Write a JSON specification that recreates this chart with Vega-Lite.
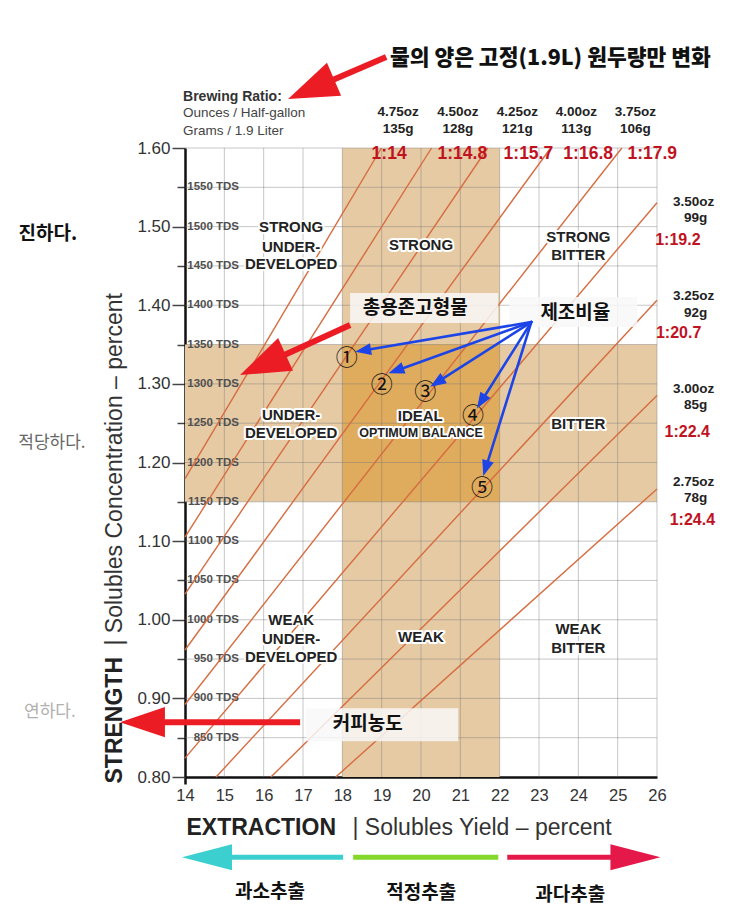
{
  "$schema": "https://vega.github.io/schema/vega-lite/v6.json",
  "width": 472,
  "height": 629,
  "autosize": {"type": "none"},
  "padding": {"left": 185, "top": 148, "right": 86, "bottom": 144},
  "background": "white",
  "config": {"view": {"stroke": null}, "font": "Liberation Sans"},
  "resolve": {"axis": {"x": "independent", "y": "independent"}},
  "datasets": {
    "regions": [
      {"t": "STRONG", "ey": 16.7, "tds": 1.4991},
      {"t": "UNDER-", "ey": 16.7, "tds": 1.4744},
      {"t": "DEVELOPED", "ey": 16.7, "tds": 1.452},
      {"t": "STRONG", "ey": 20.0, "tds": 1.4766},
      {"t": "STRONG", "ey": 24.0, "tds": 1.4872},
      {"t": "BITTER", "ey": 24.0, "tds": 1.4639},
      {"t": "UNDER-", "ey": 16.7, "tds": 1.2603},
      {"t": "DEVELOPED", "ey": 16.7, "tds": 1.2378},
      {"t": "IDEAL", "ey": 19.98, "tds": 1.259},
      {"t": "OPTIMUM BALANCE", "ey": 20.0, "tds": 1.2378},
      {"t": "BITTER", "ey": 24.0, "tds": 1.2489},
      {"t": "WEAK", "ey": 16.7, "tds": 0.9995},
      {"t": "UNDER-", "ey": 16.7, "tds": 0.9753},
      {"t": "DEVELOPED", "ey": 16.7, "tds": 0.9528},
      {"t": "WEAK", "ey": 20.0, "tds": 0.9779},
      {"t": "WEAK", "ey": 24.0, "tds": 0.9877},
      {"t": "BITTER", "ey": 24.0, "tds": 0.9643}
    ]
  },
  "layer": [
    {
      "data": {"values": [
        {"zone": "band", "ey0": 18, "ey1": 22, "tds0": 0.8, "tds1": 1.6},
        {"zone": "band", "ey0": 14, "ey1": 26, "tds0": 1.15, "tds1": 1.35},
        {"zone": "ideal", "ey0": 18, "ey1": 22, "tds0": 1.15, "tds1": 1.35}
      ]},
      "mark": {"type": "rect"},
      "encoding": {
        "x": {"field": "ey0", "type": "quantitative",
          "scale": {"domain": [14, 26], "nice": false, "zero": false},
          "axis": {
            "orient": "bottom",
            "values": [14, 15, 16, 17, 18, 19, 20, 21, 22, 23, 24, 25, 26],
            "format": "d",
            "labelFlush": false,
            "labelFontSize": 16.5, "labelColor": "#333", "labelPadding": 3,
            "tickSize": 7, "tickColor": "#111", "tickWidth": 2.5,
            "tickOpacity": {"condition": {"test": "datum.value == 14", "value": 1}, "value": 0},
            "domainColor": "#111", "domainWidth": 2.5,
            "grid": false,
            "title": "EXTRACTION", "titleFontSize": 23, "titleFontWeight": "bold", "titleColor": "#222",
            "titleAlign": "left", "titleBaseline": "alphabetic", "titleX": 1, "titleY": 57
          }},
        "x2": {"field": "ey1"},
        "y": {"field": "tds0", "type": "quantitative",
          "scale": {"domain": [0.8, 1.6], "nice": false, "zero": false},
          "axis": {
            "orient": "left",
            "values": [0.8, 0.85, 0.9, 0.95, 1, 1.05, 1.1, 1.15, 1.2, 1.25, 1.3, 1.35, 1.4, 1.45, 1.5, 1.55, 1.6],
            "labelExpr": "round(datum.value * 100) % 10 == 0 ? format(datum.value, '.2f') : ''",
            "labelFlush": false,
            "labelFontSize": 17, "labelColor": "#333", "labelPadding": 2,
            "tickSize": {"condition": {"test": "round(datum.value * 100) % 10 == 0", "value": 13}, "value": 8},
            "tickColor": "#444", "tickWidth": 1.5,
            "domainColor": "#111", "domainWidth": 2.5,
            "grid": false,
            "title": "STRENGTH", "titleFontSize": 23, "titleFontWeight": "bold", "titleColor": "#222",
            "titleAngle": 270, "titleAlign": "left", "titleBaseline": "alphabetic", "titleX": -64, "titleY": 635
          }},
        "y2": {"field": "tds1"},
        "fill": {"field": "zone", "type": "nominal",
          "scale": {"domain": ["band", "ideal"], "range": ["#e6caa4", "#dfab5c"]}, "legend": null}
      }
    },
    {
      "data": {"values": [{"ey": 15}, {"ey": 16}, {"ey": 17}, {"ey": 18}, {"ey": 19}, {"ey": 20}, {"ey": 21}, {"ey": 22}, {"ey": 23}, {"ey": 24}, {"ey": 25}, {"ey": 26}]},
      "mark": {"type": "rule", "color": "#777", "opacity": 0.42, "strokeWidth": 1},
      "encoding": {
        "x": {"field": "ey", "type": "quantitative",
          "scale": {"domain": [14, 26], "nice": false, "zero": false},
          "axis": {
            "orient": "bottom", "labels": false, "ticks": false, "domain": false, "grid": false,
            "title": "|  Solubles Yield – percent", "titleFontSize": 23, "titleFontWeight": "normal", "titleColor": "#333",
            "titleAlign": "left", "titleBaseline": "alphabetic", "titleX": 167, "titleY": 57
          }}
      }
    },
    {
      "data": {"values": [{"tds": 0.85}, {"tds": 0.9}, {"tds": 0.95}, {"tds": 1.0}, {"tds": 1.05}, {"tds": 1.1}, {"tds": 1.15}, {"tds": 1.2}, {"tds": 1.25}, {"tds": 1.3}, {"tds": 1.35}, {"tds": 1.4}, {"tds": 1.45}, {"tds": 1.5}, {"tds": 1.55}, {"tds": 1.6}]},
      "mark": {"type": "rule", "color": "#777", "opacity": 0.42, "strokeWidth": 1},
      "encoding": {
        "y": {"field": "tds", "type": "quantitative",
          "scale": {"domain": [0.8, 1.6], "nice": false, "zero": false},
          "axis": {
            "orient": "left", "labels": false, "ticks": false, "domain": false, "grid": false,
            "title": "|  Solubles Concentration – percent", "titleFontSize": 23, "titleFontWeight": "normal", "titleColor": "#333",
            "titleAngle": 270, "titleAlign": "left", "titleBaseline": "alphabetic", "titleX": -64, "titleY": 497
          }}
      }
    },
    {
      "data": {"values": [
        {"tds": 1.55, "label": "1550 TDS"}, {"tds": 1.5, "label": "1500 TDS"}, {"tds": 1.45, "label": "1450 TDS"},
        {"tds": 1.4, "label": "1400 TDS"}, {"tds": 1.35, "label": "1350 TDS"}, {"tds": 1.3, "label": "1300 TDS"},
        {"tds": 1.25, "label": "1250 TDS"}, {"tds": 1.2, "label": "1200 TDS"}, {"tds": 1.15, "label": "1150 TDS"},
        {"tds": 1.1, "label": "1100 TDS"}, {"tds": 1.05, "label": "1050 TDS"}, {"tds": 1.0, "label": "1000 TDS"},
        {"tds": 0.95, "label": "950 TDS"}, {"tds": 0.9, "label": "900 TDS"}, {"tds": 0.85, "label": "850 TDS"}
      ]},
      "mark": {"type": "text", "align": "right", "baseline": "middle", "fontSize": 11.5, "fontWeight": "bold", "color": "#505050"},
      "encoding": {
        "x": {"datum": 15.374, "type": "quantitative", "scale": {"domain": [14, 26], "nice": false, "zero": false}, "axis": null},
        "y": {"field": "tds", "type": "quantitative", "scale": {"domain": [0.8, 1.6], "nice": false, "zero": false}, "axis": null},
        "text": {"field": "label"}
      }
    },
    {
      "data": {"values": [
        {"oz": "2.75", "ey0": 17.833, "tds0": 0.8, "ey1": 26, "tds1": 1.1664},
        {"oz": "3.00", "ey0": 16.185, "tds0": 0.8, "ey1": 26, "tds1": 1.2852},
        {"oz": "3.25", "ey0": 14.79, "tds0": 0.8, "ey1": 26, "tds1": 1.4063},
        {"oz": "3.50", "ey0": 14, "tds0": 0.824, "ey1": 26, "tds1": 1.5304},
        {"oz": "3.75", "ey0": 14, "tds0": 0.8922, "ey1": 25.106, "tds1": 1.6},
        {"oz": "4.00", "ey0": 14, "tds0": 0.9615, "ey1": 23.296, "tds1": 1.6},
        {"oz": "4.25", "ey0": 14, "tds0": 1.0325, "ey1": 21.695, "tds1": 1.6},
        {"oz": "4.50", "ey0": 14, "tds0": 1.1052, "ey1": 20.269, "tds1": 1.6},
        {"oz": "4.75", "ey0": 14, "tds0": 1.1794, "ey1": 18.993, "tds1": 1.6}
      ]},
      "mark": {"type": "rule", "color": "#d66c40", "strokeWidth": 1.4},
      "encoding": {
        "x": {"field": "ey0", "type": "quantitative", "scale": {"domain": [14, 26], "nice": false, "zero": false}, "axis": null},
        "y": {"field": "tds0", "type": "quantitative", "scale": {"domain": [0.8, 1.6], "nice": false, "zero": false}, "axis": null},
        "x2": {"field": "ey1"},
        "y2": {"field": "tds1"}
      }
    },
    {
      "data": {"name": "regions"},
      "mark": {"type": "text", "align": "center", "baseline": "middle", "fontWeight": "bold", "fill": "white", "stroke": "white", "strokeWidth": 4, "strokeJoin": "round"},
      "encoding": {
        "x": {"field": "ey", "type": "quantitative", "scale": {"domain": [14, 26], "nice": false, "zero": false}, "axis": null},
        "y": {"field": "tds", "type": "quantitative", "scale": {"domain": [0.8, 1.6], "nice": false, "zero": false}, "axis": null},
        "text": {"field": "t"},
        "size": {"condition": {"test": "datum.t === 'OPTIMUM BALANCE'", "value": 12.5}, "value": 15}
      }
    },
    {
      "data": {"name": "regions"},
      "mark": {"type": "text", "align": "center", "baseline": "middle", "fontWeight": "bold", "color": "#222"},
      "encoding": {
        "x": {"field": "ey", "type": "quantitative", "scale": {"domain": [14, 26], "nice": false, "zero": false}, "axis": null},
        "y": {"field": "tds", "type": "quantitative", "scale": {"domain": [0.8, 1.6], "nice": false, "zero": false}, "axis": null},
        "text": {"field": "t"},
        "size": {"condition": {"test": "datum.t === 'OPTIMUM BALANCE'", "value": 12.5}, "value": 15}
      }
    },
    {
      "data": {"values": [{"t": "Brewing Ratio:", "ey": 13.95, "tds": 1.6649}]},
      "mark": {"type": "text", "align": "left", "baseline": "middle", "fontSize": 14, "fontWeight": "bold", "color": "#333"},
      "encoding": {
        "x": {"field": "ey", "type": "quantitative", "scale": {"domain": [14, 26], "nice": false, "zero": false}, "axis": null},
        "y": {"field": "tds", "type": "quantitative", "scale": {"domain": [0.8, 1.6], "nice": false, "zero": false}, "axis": null},
        "text": {"field": "t"}
      }
    },
    {
      "data": {"values": [
        {"t": "Ounces / Half-gallon", "ey": 13.95, "tds": 1.6445},
        {"t": "Grams / 1.9 Liter", "ey": 13.95, "tds": 1.6216}
      ]},
      "mark": {"type": "text", "align": "left", "baseline": "middle", "fontSize": 13.5, "color": "#444"},
      "encoding": {
        "x": {"field": "ey", "type": "quantitative", "scale": {"domain": [14, 26], "nice": false, "zero": false}, "axis": null},
        "y": {"field": "tds", "type": "quantitative", "scale": {"domain": [0.8, 1.6], "nice": false, "zero": false}, "axis": null},
        "text": {"field": "t"}
      }
    },
    {
      "data": {"values": [
        {"t": "4.75oz", "ey": 19.42, "tds": 1.6458}, {"t": "135g", "ey": 19.42, "tds": 1.6242},
        {"t": "4.50oz", "ey": 20.94, "tds": 1.6458}, {"t": "128g", "ey": 20.94, "tds": 1.6242},
        {"t": "4.25oz", "ey": 22.45, "tds": 1.6458}, {"t": "121g", "ey": 22.45, "tds": 1.6242},
        {"t": "4.00oz", "ey": 23.95, "tds": 1.6458}, {"t": "113g", "ey": 23.95, "tds": 1.6242},
        {"t": "3.75oz", "ey": 25.45, "tds": 1.6458}, {"t": "106g", "ey": 25.45, "tds": 1.6242},
        {"t": "3.50oz", "ey": 26.93, "tds": 1.5317}, {"t": "99g", "ey": 26.98, "tds": 1.5109},
        {"t": "3.25oz", "ey": 26.93, "tds": 1.4117}, {"t": "92g", "ey": 26.98, "tds": 1.3901},
        {"t": "3.00oz", "ey": 26.93, "tds": 1.2934}, {"t": "85g", "ey": 26.98, "tds": 1.273},
        {"t": "2.75oz", "ey": 26.93, "tds": 1.1755}, {"t": "78g", "ey": 26.98, "tds": 1.1547}
      ]},
      "mark": {"type": "text", "align": "center", "baseline": "middle", "fontSize": 13.5, "fontWeight": "bold", "color": "#222"},
      "encoding": {
        "x": {"field": "ey", "type": "quantitative", "scale": {"domain": [14, 26], "nice": false, "zero": false}, "axis": null},
        "y": {"field": "tds", "type": "quantitative", "scale": {"domain": [0.8, 1.6], "nice": false, "zero": false}, "axis": null},
        "text": {"field": "t"}
      }
    },
    {
      "data": {"values": [
        {"t": "1:14", "ey": 19.19, "tds": 1.5924},
        {"t": "1:14.8", "ey": 21.05, "tds": 1.5924},
        {"t": "1:15.7", "ey": 22.73, "tds": 1.5924},
        {"t": "1:16.8", "ey": 24.25, "tds": 1.5924},
        {"t": "1:17.9", "ey": 25.88, "tds": 1.5924},
        {"t": "1:19.2", "ey": 26.53, "tds": 1.483},
        {"t": "1:20.7", "ey": 26.55, "tds": 1.3643},
        {"t": "1:22.4", "ey": 26.77, "tds": 1.2391},
        {"t": "1:24.4", "ey": 26.9, "tds": 1.1267}
      ]},
      "mark": {"type": "text", "align": "center", "baseline": "middle", "fontWeight": "bold", "color": "#c1121f"},
      "encoding": {
        "x": {"field": "ey", "type": "quantitative", "scale": {"domain": [14, 26], "nice": false, "zero": false}, "axis": null},
        "y": {"field": "tds", "type": "quantitative", "scale": {"domain": [0.8, 1.6], "nice": false, "zero": false}, "axis": null},
        "text": {"field": "t"},
        "size": {"condition": {"test": "datum.tds > 1.55", "value": 17.5}, "value": 16}
      }
    },
    {
      "data": {"values": [
        {"box": "tds", "ey0": 18.198, "ey1": 21.964, "tds0": 1.4155, "tds1": 1.3774},
        {"box": "ratio", "ey0": 22.244, "ey1": 25.501, "tds0": 1.4104, "tds1": 1.3723},
        {"box": "strength", "ey0": 17.079, "ey1": 20.947, "tds0": 0.8875, "tds1": 0.8455}
      ]},
      "mark": {"type": "rect", "color": "#f8f8f8", "opacity": 0.85},
      "encoding": {
        "x": {"field": "ey0", "type": "quantitative", "scale": {"domain": [14, 26], "nice": false, "zero": false}, "axis": null},
        "x2": {"field": "ey1"},
        "y": {"field": "tds0", "type": "quantitative", "scale": {"domain": [0.8, 1.6], "nice": false, "zero": false}, "axis": null},
        "y2": {"field": "tds1"}
      }
    },
    {
      "data": {"values": [{"no": "①", "ey": 18.115, "tds": 1.3328}, {"no": "②", "ey": 19.005, "tds": 1.2985}, {"no": "③", "ey": 20.107, "tds": 1.2899}, {"no": "④", "ey": 21.321, "tds": 1.259}, {"no": "⑤", "ey": 21.55, "tds": 1.167}]},
      "mark": {"type": "text", "align": "center", "baseline": "middle", "fontSize": 22, "font": "Noto Sans CJK KR", "color": "#111"},
      "encoding": {
        "x": {"field": "ey", "type": "quantitative", "scale": {"domain": [14, 26], "nice": false, "zero": false}, "axis": null},
        "y": {"field": "tds", "type": "quantitative", "scale": {"domain": [0.8, 1.6], "nice": false, "zero": false}, "axis": null},
        "text": {"field": "no"}
      }
    },
    {
      "data": {"values": [
        {"arrow": "top", "ey0": 19.115, "tds0": 1.7158, "ey1": 17.206, "tds1": 1.6748},
        {"arrow": "tds", "ey0": 18.198, "tds0": 1.3748, "ey1": 15.98, "tds1": 1.3243},
        {"arrow": "strength", "ey0": 16.926, "tds0": 0.8697, "ey1": 12.92, "tds1": 0.8697}
      ]},
      "mark": {"type": "rule", "color": "#ec1c24", "strokeWidth": 6, "strokeCap": "butt"},
      "encoding": {
        "x": {"field": "ey0", "type": "quantitative", "scale": {"domain": [14, 26], "nice": false, "zero": false}, "axis": null},
        "y": {"field": "tds0", "type": "quantitative", "scale": {"domain": [0.8, 1.6], "nice": false, "zero": false}, "axis": null},
        "x2": {"field": "ey1"},
        "y2": {"field": "tds1"}
      }
    },
    {
      "data": {"values": [
        {"to": "1", "ey0": 22.804, "tds0": 1.3786, "ey1": 18.527, "tds1": 1.3425},
        {"to": "2", "ey0": 22.804, "tds0": 1.3786, "ey1": 19.364, "tds1": 1.3168},
        {"to": "3", "ey0": 22.804, "tds0": 1.3786, "ey1": 20.405, "tds1": 1.3018},
        {"to": "4", "ey0": 22.804, "tds0": 1.3786, "ey1": 21.532, "tds1": 1.2775},
        {"to": "5", "ey0": 22.804, "tds0": 1.3786, "ey1": 21.644, "tds1": 1.1924}
      ]},
      "mark": {"type": "rule", "color": "#1c44e6", "strokeWidth": 2.6, "strokeCap": "round"},
      "encoding": {
        "x": {"field": "ey0", "type": "quantitative", "scale": {"domain": [14, 26], "nice": false, "zero": false}, "axis": null},
        "y": {"field": "tds0", "type": "quantitative", "scale": {"domain": [0.8, 1.6], "nice": false, "zero": false}, "axis": null},
        "x2": {"field": "ey1"},
        "y2": {"field": "tds1"}
      }
    },
    {
      "data": {"values": [
        {"kind": "under", "ey0": 14.6, "ey1": 18.02, "tds": 0.698},
        {"kind": "ideal", "ey0": 18.275, "ey1": 21.964, "tds": 0.698},
        {"kind": "over", "ey0": 22.193, "ey1": 25.45, "tds": 0.698}
      ]},
      "mark": {"type": "rule", "strokeWidth": 5, "strokeCap": "butt"},
      "encoding": {
        "x": {"field": "ey0", "type": "quantitative", "scale": {"domain": [14, 26], "nice": false, "zero": false}, "axis": null},
        "x2": {"field": "ey1"},
        "y": {"field": "tds", "type": "quantitative", "scale": {"domain": [0.8, 1.6], "nice": false, "zero": false}, "axis": null},
        "stroke": {"field": "kind", "type": "nominal", "scale": {"domain": ["under", "ideal", "over"], "range": ["#3ccfcf", "#84d82a", "#e4194a"]}, "legend": null}
      }
    },
    {
      "data": {"values": [{"ey": 16.621, "tds": 1.6623}]},
      "mark": {"type": "point", "shape": "M0,0L-2,-0.72L-2,0.72Z", "size": 2500, "angle": 156.8, "filled": true, "opacity": 1, "color": "#ec1c24"},
      "encoding": {
        "x": {"field": "ey", "type": "quantitative", "scale": {"domain": [14, 26], "nice": false, "zero": false}, "axis": null},
        "y": {"field": "tds", "type": "quantitative", "scale": {"domain": [0.8, 1.6], "nice": false, "zero": false}, "axis": null}
      }
    },
    {
      "data": {"values": [{"ey": 15.399, "tds": 1.3112}]},
      "mark": {"type": "point", "shape": "M0,0L-2,-0.72L-2,0.72Z", "size": 2500, "angle": 155.6, "filled": true, "opacity": 1, "color": "#ec1c24"},
      "encoding": {
        "x": {"field": "ey", "type": "quantitative", "scale": {"domain": [14, 26], "nice": false, "zero": false}, "axis": null},
        "y": {"field": "tds", "type": "quantitative", "scale": {"domain": [0.8, 1.6], "nice": false, "zero": false}, "axis": null}
      }
    },
    {
      "data": {"values": [{"ey": 12.346, "tds": 0.8697}]},
      "mark": {"type": "point", "shape": "M0,0L-2,-0.67L-2,0.67Z", "size": 2025, "angle": 180, "filled": true, "opacity": 1, "color": "#ec1c24"},
      "encoding": {
        "x": {"field": "ey", "type": "quantitative", "scale": {"domain": [14, 26], "nice": false, "zero": false}, "axis": null},
        "y": {"field": "tds", "type": "quantitative", "scale": {"domain": [0.8, 1.6], "nice": false, "zero": false}, "axis": null}
      }
    },
    {
      "data": {"values": [{"ey": 13.924, "tds": 0.698}]},
      "mark": {"type": "point", "shape": "M0,0L-2,-0.52L-2,0.52Z", "size": 2500, "angle": 180, "filled": true, "opacity": 1, "color": "#3ccfcf"},
      "encoding": {
        "x": {"field": "ey", "type": "quantitative", "scale": {"domain": [14, 26], "nice": false, "zero": false}, "axis": null},
        "y": {"field": "tds", "type": "quantitative", "scale": {"domain": [0.8, 1.6], "nice": false, "zero": false}, "axis": null}
      }
    },
    {
      "data": {"values": [{"ey": 26.087, "tds": 0.698}]},
      "mark": {"type": "point", "shape": "M0,0L-2,-0.52L-2,0.52Z", "size": 2500, "angle": 0, "filled": true, "opacity": 1, "color": "#e4194a"},
      "encoding": {
        "x": {"field": "ey", "type": "quantitative", "scale": {"domain": [14, 26], "nice": false, "zero": false}, "axis": null},
        "y": {"field": "tds", "type": "quantitative", "scale": {"domain": [0.8, 1.6], "nice": false, "zero": false}, "axis": null}
      }
    },
    {
      "data": {"values": [{"ey": 18.326, "tds": 1.3408}]},
      "mark": {"type": "point", "shape": "M0,0L-2,-0.75L-2,0.75Z", "size": 256, "angle": 170.4, "filled": true, "opacity": 1, "color": "#1c44e6"},
      "encoding": {
        "x": {"field": "ey", "type": "quantitative", "scale": {"domain": [14, 26], "nice": false, "zero": false}, "axis": null},
        "y": {"field": "tds", "type": "quantitative", "scale": {"domain": [0.8, 1.6], "nice": false, "zero": false}, "axis": null}
      }
    },
    {
      "data": {"values": [{"ey": 19.173, "tds": 1.3134}]},
      "mark": {"type": "point", "shape": "M0,0L-2,-0.75L-2,0.75Z", "size": 256, "angle": 160.2, "filled": true, "opacity": 1, "color": "#1c44e6"},
      "encoding": {
        "x": {"field": "ey", "type": "quantitative", "scale": {"domain": [14, 26], "nice": false, "zero": false}, "axis": null},
        "y": {"field": "tds", "type": "quantitative", "scale": {"domain": [0.8, 1.6], "nice": false, "zero": false}, "axis": null}
      }
    },
    {
      "data": {"values": [{"ey": 20.234, "tds": 1.2963}]},
      "mark": {"type": "point", "shape": "M0,0L-2,-0.75L-2,0.75Z", "size": 256, "angle": 147.4, "filled": true, "opacity": 1, "color": "#1c44e6"},
      "encoding": {
        "x": {"field": "ey", "type": "quantitative", "scale": {"domain": [14, 26], "nice": false, "zero": false}, "axis": null},
        "y": {"field": "tds", "type": "quantitative", "scale": {"domain": [0.8, 1.6], "nice": false, "zero": false}, "axis": null}
      }
    },
    {
      "data": {"values": [{"ey": 21.422, "tds": 1.2688}]},
      "mark": {"type": "point", "shape": "M0,0L-2,-0.75L-2,0.75Z", "size": 256, "angle": 122.2, "filled": true, "opacity": 1, "color": "#1c44e6"},
      "encoding": {
        "x": {"field": "ey", "type": "quantitative", "scale": {"domain": [14, 26], "nice": false, "zero": false}, "axis": null},
        "y": {"field": "tds", "type": "quantitative", "scale": {"domain": [0.8, 1.6], "nice": false, "zero": false}, "axis": null}
      }
    },
    {
      "data": {"values": [{"ey": 21.583, "tds": 1.1827}]},
      "mark": {"type": "point", "shape": "M0,0L-2,-0.75L-2,0.75Z", "size": 256, "angle": 107.3, "filled": true, "opacity": 1, "color": "#1c44e6"},
      "encoding": {
        "x": {"field": "ey", "type": "quantitative", "scale": {"domain": [14, 26], "nice": false, "zero": false}, "axis": null},
        "y": {"field": "tds", "type": "quantitative", "scale": {"domain": [0.8, 1.6], "nice": false, "zero": false}, "axis": null}
      }
    },
    {
      "data": {"values": [
        {"t": "총용존고형물", "ey": 19.852, "tds": 1.3964},
        {"t": "제조비율", "ey": 23.924, "tds": 1.3901},
        {"t": "커피농도", "ey": 18.644, "tds": 0.8678},
        {"t": "과소추출", "ey": 16.163, "tds": 0.6534},
        {"t": "적정추출", "ey": 20.005, "tds": 0.6522},
        {"t": "과다추출", "ey": 23.796, "tds": 0.6496},
        {"t": "진하다.", "ey": 10.514, "tds": 1.4906}
      ]},
      "mark": {"type": "text", "align": "center", "baseline": "middle", "fontSize": 19, "fontWeight": "bold", "font": "Noto Sans CJK KR", "color": "#111"},
      "encoding": {
        "x": {"field": "ey", "type": "quantitative", "scale": {"domain": [14, 26], "nice": false, "zero": false}, "axis": null},
        "y": {"field": "tds", "type": "quantitative", "scale": {"domain": [0.8, 1.6], "nice": false, "zero": false}, "axis": null},
        "text": {"field": "t"}
      }
    },
    {
      "data": {"values": [{"t": "적당하다.", "ey": 10.616, "tds": 1.2247}]},
      "mark": {"type": "text", "align": "center", "baseline": "middle", "fontSize": 17, "font": "Noto Sans CJK KR", "color": "#666"},
      "encoding": {
        "x": {"field": "ey", "type": "quantitative", "scale": {"domain": [14, 26], "nice": false, "zero": false}, "axis": null},
        "y": {"field": "tds", "type": "quantitative", "scale": {"domain": [0.8, 1.6], "nice": false, "zero": false}, "axis": null},
        "text": {"field": "t"}
      }
    },
    {
      "data": {"values": [{"t": "연하다.", "ey": 10.565, "tds": 0.8824}]},
      "mark": {"type": "text", "align": "center", "baseline": "middle", "fontSize": 17, "font": "Noto Sans CJK KR", "color": "#b0b0b0"},
      "encoding": {
        "x": {"field": "ey", "type": "quantitative", "scale": {"domain": [14, 26], "nice": false, "zero": false}, "axis": null},
        "y": {"field": "tds", "type": "quantitative", "scale": {"domain": [0.8, 1.6], "nice": false, "zero": false}, "axis": null},
        "text": {"field": "t"}
      }
    },
    {
      "data": {"values": [{"t": "물의 양은 고정(1.9L) 원두량만 변화", "ey": 23.288, "tds": 1.7132}]},
      "mark": {"type": "text", "align": "center", "baseline": "middle", "fontSize": 21.5, "fontWeight": 900, "font": "Noto Sans CJK KR", "color": "#111"},
      "encoding": {
        "x": {"field": "ey", "type": "quantitative", "scale": {"domain": [14, 26], "nice": false, "zero": false}, "axis": null},
        "y": {"field": "tds", "type": "quantitative", "scale": {"domain": [0.8, 1.6], "nice": false, "zero": false}, "axis": null},
        "text": {"field": "t"}
      }
    }
  ]
}
